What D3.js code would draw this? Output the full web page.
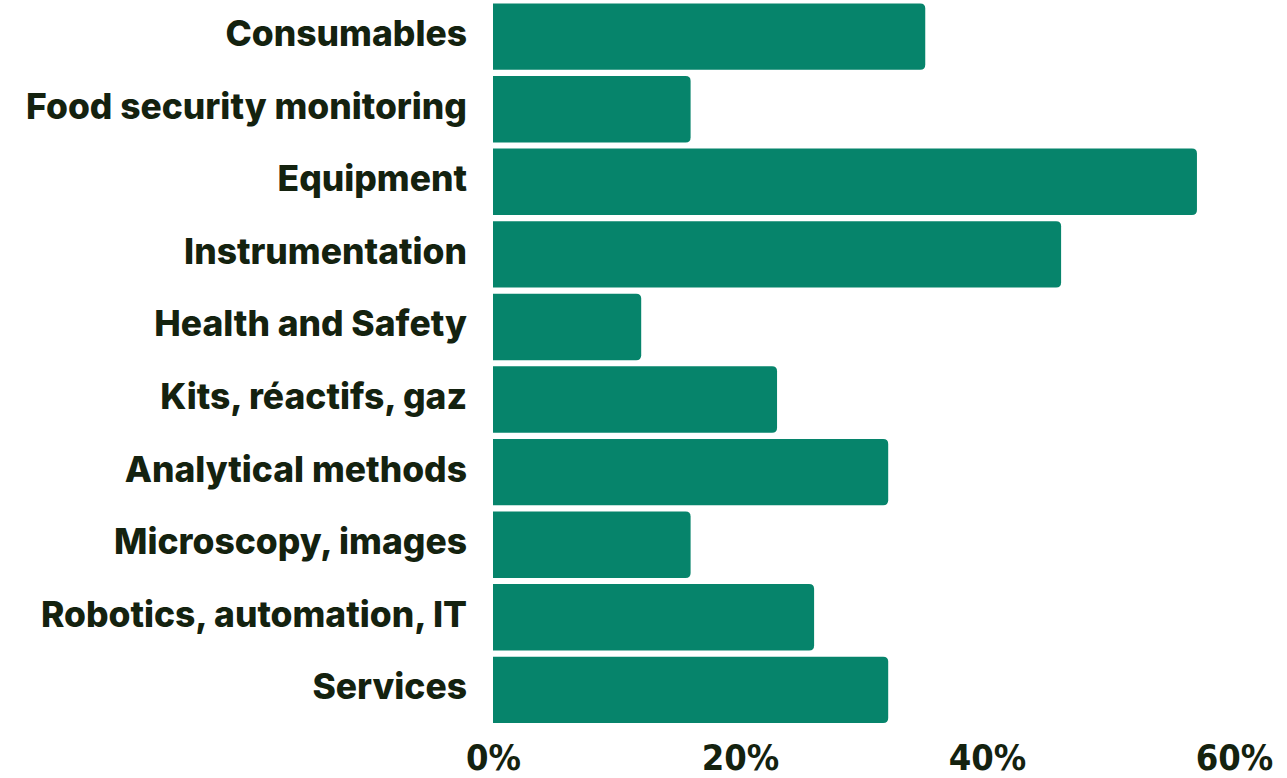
<!DOCTYPE html>
<html>
<head>
<meta charset="utf-8">
<script src="https://cdn.jsdelivr.net/npm/d3@7"></script>
<style>
  body { margin: 0; background: #fff; }
  svg { display: block; }
</style>
</head>
<body>
<div id="chart"></div>
<script>
// data
const categories = ["Consumables", "Food security monitoring", "Equipment", "Instrumentation",
  "Health and Safety", "Kits, réactifs, gaz", "Analytical methods", "Microscopy, images",
  "Robotics, automation, IT", "Services"];
const values = [35, 16, 57, 46, 12, 23, 32, 16, 26, 32];
const tickValues = [0, 20, 40, 60];

const width = 1287, height = 778;
const barColor = "#06846b";
const textColor = "#14220f";

const svg = d3.select("#chart").append("svg")
  .attr("width", width)
  .attr("height", height);

const x = d3.scaleLinear().domain([0, 60]).range([493, 1234]);
const y = d3.scaleBand().domain(categories).range([0.5, 726])
  .paddingInner(0.085).paddingOuter(0.04);

// bar with rounded right corners only
function barPath(x0, y0, w, h, r) {
  r = Math.min(r, w, h / 2);
  return `M${x0},${y0}H${x0 + w - r}Q${x0 + w},${y0} ${x0 + w},${y0 + r}` +
    `V${y0 + h - r}Q${x0 + w},${y0 + h} ${x0 + w - r},${y0 + h}H${x0}Z`;
}

const data = categories.map((c, i) => ({ name: c, value: values[i] }));

svg.append("g")
  .selectAll("path")
  .data(data)
  .enter()
  .append("path")
  .attr("d", d => barPath(x(0), y(d.name), x(d.value) - x(0), y.bandwidth(), 5))
  .attr("fill", barColor);

// category labels
const labels = svg.append("g")
  .selectAll("text")
  .data(data)
  .enter()
  .append("text")
  .text(d => d.name)
  .attr("x", 467)
  .attr("y", d => y(d.name) + y.bandwidth() / 2 - 3)
  .attr("text-anchor", "end")
  .attr("dominant-baseline", "central")
  .style("font-family", "Inter, 'Open Sans', sans-serif")
  .style("font-weight", 800)
  .style("font-size", "30px")
  .style("fill", textColor);

// fit the longest label to the width seen in the picture
const longest = d3.max(labels.nodes(), n => n.getComputedTextLength());
const fs = 30 * 441 / longest;
labels.style("font-size", fs + "px");

// x axis tick labels
const xAxis = d3.axisBottom(x)
  .tickValues(tickValues)
  .tickFormat(d => d + "%")
  .tickSize(0)
  .tickPadding(0);

const gx = svg.append("g")
  .attr("transform", "translate(0,744)")
  .call(xAxis);
gx.select(".domain").remove();
gx.selectAll("text")
  .attr("dy", "0.71em")
  .style("font-family", "'Liberation Sans Narrow', 'DejaVu Sans Condensed', sans-serif")
  .style("font-weight", 700)
  .style("font-size", "36px")
  .style("fill", textColor);
</script>
</body>
</html>
